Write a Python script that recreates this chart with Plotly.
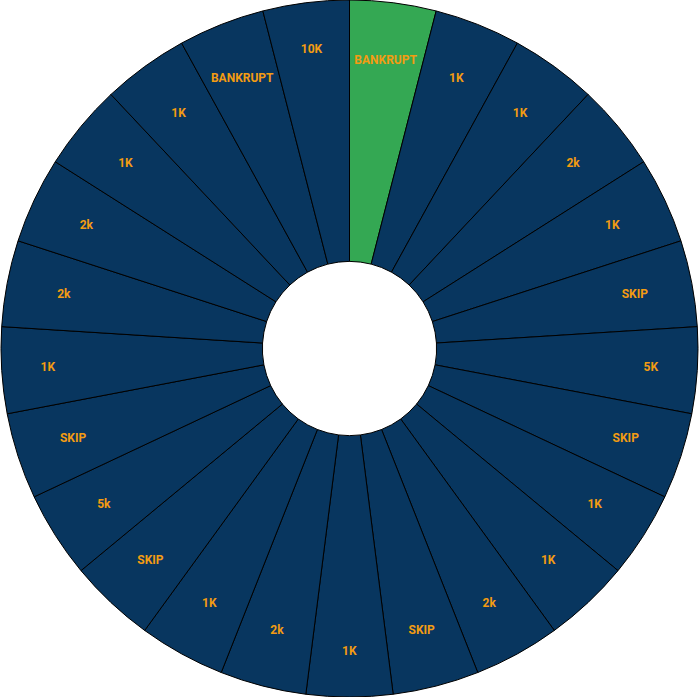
import plotly.graph_objects as go

labels = ["BANKRUPT", "1K", "1K", "2k", "1K", "SKIP", "5K", "SKIP", "1K", "1K", "2k",
          "SKIP", "1K", "2k", "1K", "SKIP", "5k", "SKIP", "1K", "2k", "2k", "1K", "1K",
          "BANKRUPT", "10K"]
values = [1] * len(labels)

GREEN, BLUE = "#34a853", "#08365f"
colors = [GREEN] + [BLUE] * (len(labels) - 1)

W, H = 699, 697
ids = [f"s{i}" for i in range(len(labels))]
# slices straddling the vertical/horizontal axes carry their label a bit further out
axis_slices = {6, 12, 18, 24}

text_inner = [t if i not in axis_slices else "" for i, t in enumerate(labels)]
text_outer = [t if i in axis_slices else "" for i, t in enumerate(labels)]

common = dict(
    labels=ids, values=values, hole=0.25, sort=False,
    direction="clockwise", rotation=0, showlegend=False, hoverinfo="skip",
)
font = dict(color="#f39c12", size=12, family="Roboto", weight="bold")

wheel = go.Pie(
    textinfo="none",
    marker=dict(colors=colors, line=dict(color="#000000", width=1)),
    **common,
)


def label_layer(txt, radius_px):
    fx = (W / 2 - radius_px) / W
    fy = (H / 2 - radius_px) / H
    return go.Pie(
        text=txt,
        textinfo="text",
        domain=dict(x=[fx, 1 - fx], y=[fy, 1 - fy]),
        marker=dict(colors=["rgba(0,0,0,0)"] * len(labels), line=dict(width=0)),
        textposition="inside",
        insidetextorientation="horizontal",
        textfont=font,
        **common,
    )


fig = go.Figure([wheel, label_layer(text_inner, 327), label_layer(text_outer, 340)])
fig.update_layout(width=W, height=H, margin=dict(l=0, r=0, t=0, b=0),
                  paper_bgcolor="white", showlegend=False)
fig.write_html("out.html")
